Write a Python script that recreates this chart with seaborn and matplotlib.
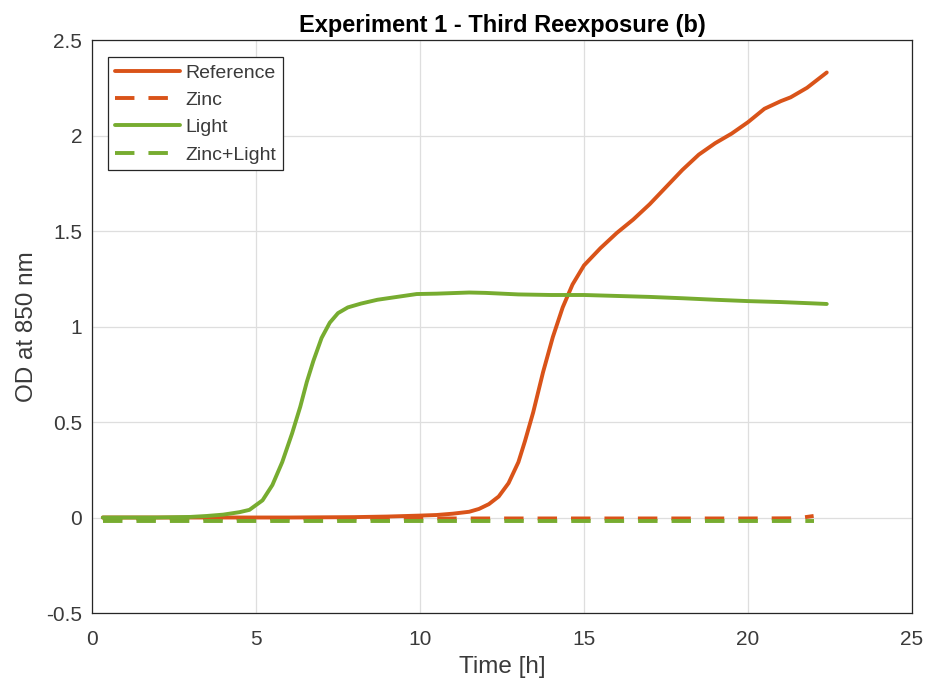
import numpy as np
import pandas as pd
import seaborn as sns
import matplotlib
matplotlib.use("Agg")
import matplotlib.pyplot as plt

# growth curves (time in h, OD at 850 nm)
ref_time = [0.33, 2, 4, 6, 8, 9, 10, 10.5, 11, 11.5, 11.8, 12.1, 12.4, 12.7, 13.0, 13.2,
            13.45, 13.75, 14.05, 14.35, 14.65, 15.0, 15.5, 16, 16.5, 17, 17.5, 18, 18.5,
            19, 19.5, 20, 20.5, 21, 21.3, 21.8, 22.1, 22.4]
ref_od = [0.0, 0.0, 0.0, 0.0, 0.002, 0.005, 0.01, 0.013, 0.02, 0.03, 0.045, 0.07, 0.11,
          0.18, 0.29, 0.40, 0.55, 0.76, 0.945, 1.10, 1.22, 1.32, 1.41, 1.49, 1.56, 1.64,
          1.73, 1.82, 1.90, 1.96, 2.01, 2.07, 2.14, 2.18, 2.20, 2.25, 2.29, 2.33]

zinc_time = [0.33, 5, 10, 15, 20, 21.5, 22.0]
zinc_od = [-0.005, -0.005, -0.005, -0.005, -0.005, -0.004, 0.008]

light_time = [0.33, 1, 2, 3, 3.5, 4, 4.5, 4.8, 5.0, 5.2, 5.5, 5.8, 6.1, 6.35, 6.55, 6.75,
              7.0, 7.25, 7.5, 7.8, 8.2, 8.7, 9.3, 9.9, 10.5, 11, 11.5, 12, 13, 14, 15, 16,
              17, 18, 19, 20, 21, 22, 22.4]
light_od = [0.0, 0.0, 0.0, 0.003, 0.008, 0.015, 0.028, 0.04, 0.065, 0.09, 0.17, 0.29, 0.44,
            0.58, 0.71, 0.82, 0.94, 1.02, 1.07, 1.10, 1.12, 1.14, 1.155, 1.17, 1.172, 1.175,
            1.178, 1.176, 1.168, 1.165, 1.165, 1.16, 1.155, 1.148, 1.14, 1.133, 1.128, 1.121,
            1.118]

zl_time = [0.33, 5, 10, 15, 20, 22.0]
zl_od = [-0.018, -0.018, -0.018, -0.018, -0.018, -0.018]

orange = "#D95319"
green = "#77AC30"
txt = "#3a3a3a"

sns.set_style("white")
plt.rcParams["font.family"] = ["Liberation Sans", "DejaVu Sans"]
plt.rcParams["axes.unicode_minus"] = False

fig = plt.figure(figsize=(9.28, 6.84), dpi=100)
ax = fig.add_axes([0.0991, 0.1038, 0.8837, 0.8377])

dash = (0, (5.0, 3.6))
sns.lineplot(x=ref_time, y=ref_od, color=orange, lw=2.8, label="Reference", ax=ax)
sns.lineplot(x=zinc_time, y=zinc_od, color=orange, lw=2.8, linestyle=dash, label="Zinc", ax=ax)
sns.lineplot(x=light_time, y=light_od, color=green, lw=2.8, label="Light", ax=ax)
sns.lineplot(x=zl_time, y=zl_od, color=green, lw=2.8, linestyle=dash, label="Zinc+Light", ax=ax)

ax.set_xlim(0, 25)
ax.set_ylim(-0.5, 2.5)
ax.set_xticks([0, 5, 10, 15, 20, 25])
ax.set_yticks([-0.5, 0, 0.5, 1, 1.5, 2, 2.5])
ax.set_yticklabels(["-0.5", "0", "0.5", "1", "1.5", "2", "2.5"])
ax.grid(True, color="#dedede", lw=0.9)
ax.set_axisbelow(True)
for s in ax.spines.values():
    s.set_color("#262626")
    s.set_linewidth(0.9)
ax.tick_params(direction="in", length=5, width=0.9, color="#262626",
               labelsize=15, labelcolor=txt)
ax.tick_params(axis="x", pad=12)
ax.tick_params(axis="y", pad=7)

ax.set_xlabel("Time [h]", fontsize=17.5, color=txt, labelpad=5)
ax.set_ylabel("OD at 850 nm", fontsize=17.5, color=txt, labelpad=6)
ax.set_title("Experiment 1 - Third Reexposure (b)", fontsize=17, fontweight="bold",
             color="black", pad=6)

leg = ax.legend(loc="upper left", bbox_to_anchor=(0.0195, 0.970), borderaxespad=0,
                fontsize=14, frameon=True, fancybox=False, framealpha=1,
                edgecolor="#262626", handlelength=3.35, handletextpad=0.3,
                labelspacing=0.5, borderpad=0.35)
leg.get_frame().set_linewidth(0.9)
for t in leg.get_texts():
    t.set_color(txt)

fig.savefig("out.png", dpi=100)
